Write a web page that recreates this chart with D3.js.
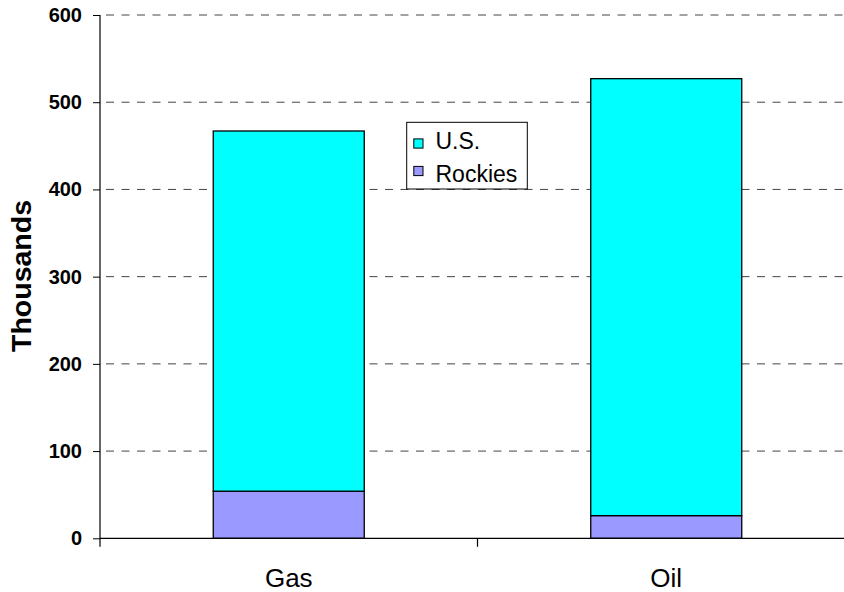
<!DOCTYPE html>
<html>
<head>
<meta charset="utf-8">
<script src="https://cdn.jsdelivr.net/npm/d3@7/dist/d3.min.js"></script>
<style>
  html, body { margin: 0; padding: 0; background: #fff; }
  svg { display: block; font-family: Arial, "Liberation Sans", sans-serif; }
</style>
</head>
<body>
<svg id="chart" width="844" height="592"></svg>
<script>
const categories = ["Gas", "Oil"];
const seriesNames = ["Rockies", "U.S."];
const rockiesValues = [54, 26];
const usValues = [413, 501];
const yTicks = [0, 100, 200, 300, 400, 500, 600];
const legendOrder = ["U.S.", "Rockies"];
const colors = { "U.S.": "#00FFFF", "Rockies": "#9999FF" };

const svg = d3.select("#chart");
const plotLeft = 100, plotRight = 855, plotTop = 15, plotBottom = 538.3;

const x = d3.scaleBand().domain(categories).range([plotLeft, plotRight]).paddingInner(0.6).paddingOuter(0.3);
const xCat = d3.scaleBand().domain(categories).range([plotLeft, plotRight]);
const y = d3.scaleLinear().domain([0, 600]).range([plotBottom, plotTop]);

const rows = categories.map((c, i) => ({ cat: c, "Rockies": rockiesValues[i], "U.S.": usValues[i] }));
const stacked = d3.stack().keys(seriesNames)(rows);

// gridlines
svg.append("g").selectAll("line").data(yTicks.filter(d => d > 0)).join("line")
  .attr("x1", plotLeft).attr("x2", 844)
  .attr("y1", d => y(d)).attr("y2", d => y(d))
  .attr("stroke", "#444").attr("stroke-width", 1)
  .attr("stroke-dasharray", "8,7.5")
  .attr("stroke-dashoffset", -6);

// bars
svg.append("g").selectAll("g").data(stacked).join("g")
  .attr("fill", d => colors[d.key])
  .selectAll("rect").data(d => d).join("rect")
  .attr("x", d => x(d.data.cat))
  .attr("width", x.bandwidth())
  .attr("y", d => y(d[1]))
  .attr("height", d => y(d[0]) - y(d[1]))
  .attr("stroke", "#000").attr("stroke-width", 1.3);

// y axis
const yAxis = d3.axisLeft(y).tickValues(yTicks).tickSize(7).tickPadding(11).tickFormat(d3.format("d"));
const gy = svg.append("g").attr("transform", `translate(${plotLeft},0)`).call(yAxis);
gy.select(".domain").remove();
gy.selectAll(".tick line").attr("stroke", "#000");
gy.selectAll(".tick text").attr("font-size", 20).attr("font-weight", "bold").attr("fill", "#000")
  .attr("font-family", "Arial, 'Liberation Sans', sans-serif");
svg.append("line").attr("x1", plotLeft).attr("x2", plotLeft).attr("y1", plotTop).attr("y2", plotBottom + 8.5)
  .attr("stroke", "#000").attr("stroke-width", 1.2);

// x axis
svg.append("line").attr("x1", plotLeft).attr("x2", 844).attr("y1", plotBottom).attr("y2", plotBottom)
  .attr("stroke", "#000").attr("stroke-width", 1.2);
svg.append("g").selectAll("line").data(categories.slice(1)).join("line")
  .attr("x1", d => xCat(d)).attr("x2", d => xCat(d))
  .attr("y1", plotBottom).attr("y2", plotBottom + 8.5)
  .attr("stroke", "#000").attr("stroke-width", 1.2);
svg.append("g").selectAll("text").data(categories).join("text")
  .attr("x", d => x(d) + x.bandwidth() / 2)
  .attr("y", 587)
  .attr("text-anchor", "middle")
  .attr("font-size", 26)
  .attr("fill", "#000")
  .text(d => d);

// y title
svg.append("text")
  .attr("transform", "translate(31,276) rotate(-90)")
  .attr("text-anchor", "middle")
  .attr("font-size", 28.5).attr("font-weight", "bold")
  .text("Thousands");

// legend
const lg = svg.append("g");
lg.append("rect").attr("x", 406.7).attr("y", 122.3).attr("width", 120.6).attr("height", 66.7)
  .attr("fill", "#fff").attr("stroke", "#000").attr("stroke-width", 1);
const legendSwatchY = [143.5, 171];
const legendTextY = [148.5, 181.5];
legendOrder.forEach((name, i) => {
  lg.append("rect").attr("x", 413.8).attr("y", legendSwatchY[i] - 4.6).attr("width", 9.2).attr("height", 9.2)
    .attr("fill", colors[name]).attr("stroke", "#000").attr("stroke-width", 1);
  lg.append("text").attr("x", 435.5).attr("y", legendTextY[i])
    .attr("font-size", 23).attr("fill", "#000").text(name);
});
</script>
</body>
</html>
